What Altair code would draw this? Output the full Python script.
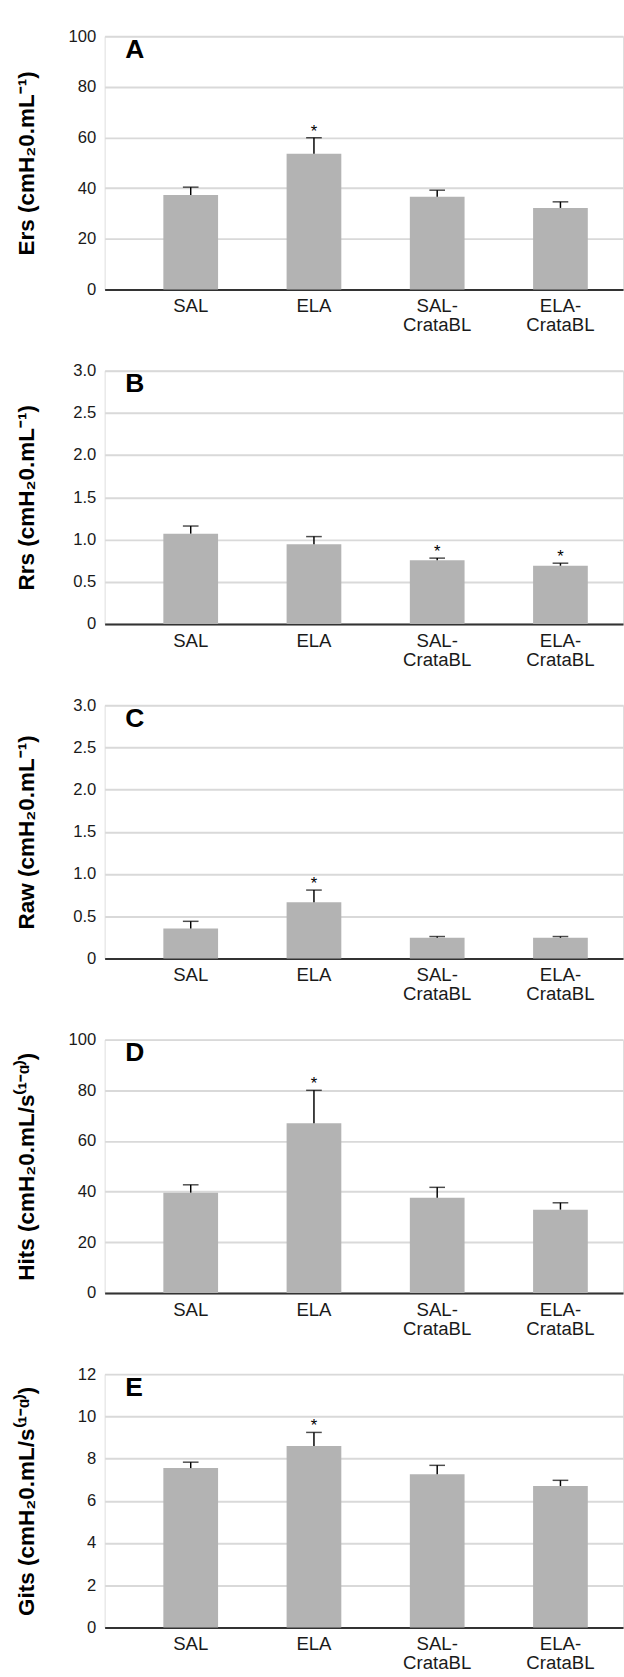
import altair as alt
import pandas as pd

groups = ["SAL", "ELA", "SAL-CrataBL", "ELA-CrataBL"]

ers_mean = [37.3, 53.6, 36.6, 32.2]
ers_err = [3.1, 6.3, 2.6, 2.4]
ers_sig = [False, True, False, False]

rrs_mean = [1.07, 0.945, 0.755, 0.69]
rrs_err = [0.09, 0.09, 0.025, 0.03]
rrs_sig = [False, False, True, True]

raw_mean = [0.355, 0.665, 0.245, 0.245]
raw_err = [0.085, 0.145, 0.015, 0.015]
raw_sig = [False, True, False, False]

hits_mean = [39.6, 67.0, 37.6, 32.9]
hits_err = [3.1, 13.0, 4.1, 2.7]
hits_sig = [False, True, False, False]

gits_mean = [7.55, 8.6, 7.26, 6.7]
gits_err = [0.28, 0.64, 0.42, 0.27]
gits_sig = [False, True, False, False]

ticks_100 = [0, 20, 40, 60, 80, 100]
ticks_3 = [0, 0.5, 1.0, 1.5, 2.0, 2.5, 3.0]
ticks_12 = [0, 2, 4, 6, 8, 10, 12]

FONT = "Liberation Sans"
FMT_DEC = "datum.value == 0 ? '0' : format(datum.value, '.1f')"
FMT_INT = "format(datum.value, 'd')"
XLABEL = ("indexof(datum.value, '-') > 0 ? "
          "[slice(datum.value, 0, indexof(datum.value, '-') + 1), "
          "slice(datum.value, indexof(datum.value, '-') + 1)] : datum.value")


def panel(letter, title, mean, err, sig, ymax, ticks, fmt):
    df = pd.DataFrame({
        "group": groups,
        "mean": mean,
        "upper": [m + e for m, e in zip(mean, err)],
        "star": ["*" if s else "" for s in sig],
    })
    xscale = alt.Scale(paddingInner=0.556, paddingOuter=0.381, align=0.625)
    xaxis = alt.Axis(labelAngle=0, ticks=False, domainColor="#333333", domainWidth=2,
                     labelFontSize=19, labelColor="#1a1a1a", labelPadding=8,
                     labelLineHeight=19, labelExpr=XLABEL, grid=False, labelFont=FONT)
    x = alt.X("group:N", sort=groups, title=None, scale=xscale, axis=xaxis)
    xs = alt.X("group:N", sort=groups, title=None)
    yscale = alt.Scale(domain=[0, ymax], nice=False, zero=True)
    yaxis = alt.Axis(values=ticks, grid=True, gridColor="#d9d9d9", gridWidth=2,
                     domain=False, ticks=False, labelExpr=fmt, labelFontSize=17,
                     labelColor="#1a1a1a", labelFont=FONT, labelPadding=9,
                     titleFontSize=23, titleFontWeight="bold", titleFont=FONT,
                     titleColor="#000000", titleX=-68)
    y = alt.Y("mean:Q", scale=yscale, title=title, axis=yaxis)
    bars = alt.Chart(df).mark_bar(color="#b3b3b3").encode(x=x, y=y)
    rule = alt.Chart(df).mark_rule(color="black", strokeWidth=1.5).encode(
        x=xs, y=alt.Y("mean:Q", title=title), y2="upper:Q")
    cap = alt.Chart(df).mark_tick(color="black", thickness=1.5, size=16).encode(
        x=xs, y=alt.Y("upper:Q", title=title))
    star = alt.Chart(df).mark_text(fontSize=17, baseline="alphabetic", dy=-1,
                                   font=FONT, color="black").encode(
        x=xs, y=alt.Y("upper:Q", title=title), text="star:N")
    lab = alt.Chart(pd.DataFrame({"t": [letter]})).mark_text(
        fontSize=27, fontWeight="bold", align="left", baseline="top", font=FONT,
        color="black").encode(x=alt.value(21), y=alt.value(1), text="t:N")
    return alt.layer(bars, rule, cap, star, lab).properties(width=530, height=259)


panels = [
    panel("A", "Ers (cmH\u20820.mL\u207b\u00b9)", ers_mean, ers_err, ers_sig, 100, ticks_100, FMT_INT),
    panel("B", "Rrs (cmH\u20820.mL\u207b\u00b9)", rrs_mean, rrs_err, rrs_sig, 3, ticks_3, FMT_DEC),
    panel("C", "Raw (cmH\u20820.mL\u207b\u00b9)", raw_mean, raw_err, raw_sig, 3, ticks_3, FMT_DEC),
    panel("D", "Hits (cmH\u20820.mL/s\u207d\u00b9\u207b\u1d45\u207e)", hits_mean, hits_err, hits_sig, 100, ticks_100, FMT_INT),
    panel("E", "Gits (cmH\u20820.mL/s\u207d\u00b9\u207b\u1d45\u207e)", gits_mean, gits_err, gits_sig, 12, ticks_12, FMT_INT),
]

chart = alt.vconcat(*panels, spacing=26).properties(
    padding={"left": 15, "top": 8, "right": 0, "bottom": 0},
    background="white",
).configure_view(stroke=None).configure(font=FONT)

chart.save("out.html", embed_options={"renderer": "svg", "actions": False})
